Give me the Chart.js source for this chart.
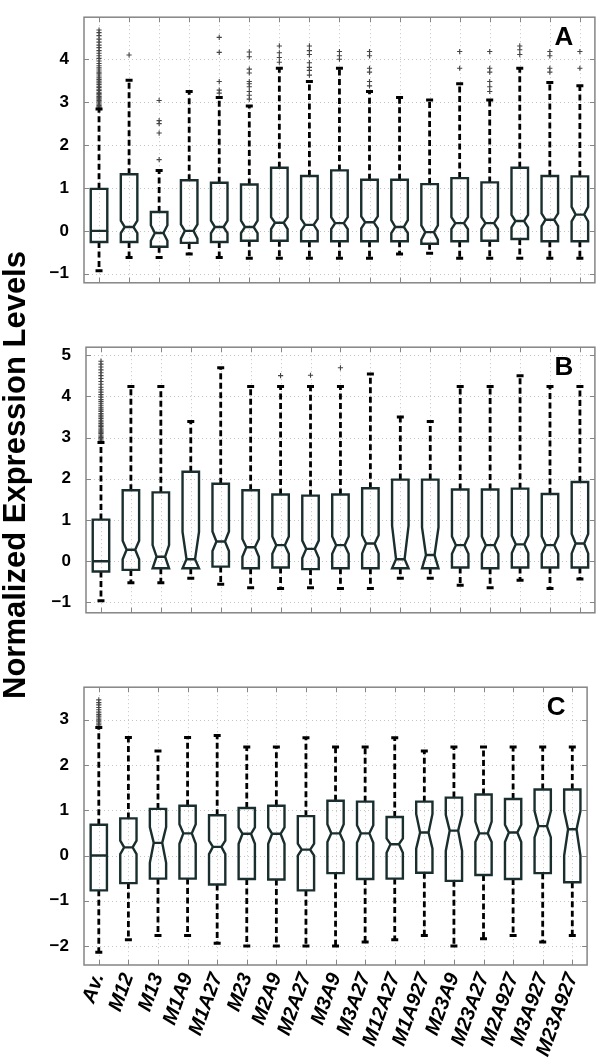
<!DOCTYPE html>
<html>
<head>
<meta charset="utf-8">
<script src="https://cdn.jsdelivr.net/npm/chart.js@4/dist/chart.umd.min.js"></script>
<style>
  html, body { margin: 0; padding: 0; background: #fff; }
  body { position: relative; width: 600px; height: 1064px; overflow: hidden; }
  canvas { position: absolute; left: 0; }
  #yTitle {
    position: absolute; left: -283px; top: 455px; width: 600px; height: 40px;
    line-height: 40px; text-align: center; transform: rotate(-90deg);
    font: bold 31px "Liberation Sans", Arial, sans-serif; color: #000;
  }
</style>
</head>
<body>
<canvas id="panelA" width="600" height="300" style="top:0px"></canvas>
<canvas id="panelB" width="600" height="300" style="top:330px"></canvas>
<canvas id="panelC" width="600" height="394" style="top:670px"></canvas>
<div id="yTitle">Normalized Expression Levels</div>
<script>
const categories = ['Av.', 'M12', 'M13', 'M1A9', 'M1A27', 'M23', 'M2A9', 'M2A27', 'M3A9',
  'M3A27', 'M12A27', 'M1A927', 'M23A9', 'M23A27', 'M2A927', 'M3A927', 'M23A927'];

const yTicksA = [-1, 0, 1, 2, 3, 4];
const yTicksB = [-1, 0, 1, 2, 3, 4, 5];
const yTicksC = [-2, -1, 0, 1, 2, 3];

// panel A
const lowA = [-0.93, -0.62, -0.62, -0.54, -0.62, -0.64, -0.64, -0.64, -0.64, -0.64, -0.54, -0.52, -0.64, -0.64, -0.64, -0.64, -0.64];
const q1A = [-0.26, -0.26, -0.37, -0.28, -0.26, -0.23, -0.23, -0.24, -0.24, -0.24, -0.24, -0.30, -0.24, -0.23, -0.19, -0.24, -0.24];
const medA = [0.0, 0.09, -0.05, 0.0, 0.09, 0.09, 0.19, 0.14, 0.18, 0.2, 0.09, -0.03, 0.18, 0.18, 0.23, 0.26, 0.38];
const q3A = [0.98, 1.32, 0.44, 1.18, 1.12, 1.08, 1.47, 1.28, 1.41, 1.19, 1.19, 1.09, 1.23, 1.13, 1.47, 1.28, 1.27];
const highA = [2.84, 3.51, 1.41, 3.25, 3.11, 2.91, 3.79, 3.48, 3.79, 3.25, 3.11, 3.05, 3.43, 3.05, 3.79, 3.46, 3.38];
const notchLoA = [null, -0.05, -0.23, -0.18, -0.05, -0.05, 0.04, 0.0, 0.04, 0.06, -0.05, -0.21, 0.04, 0.04, 0.08, 0.11, 0.22];
const notchHiA = [null, 0.24, 0.13, 0.15, 0.24, 0.24, 0.32, 0.28, 0.32, 0.34, 0.25, 0.13, 0.32, 0.32, 0.37, 0.41, 0.56];
const outliersA = [
  [2.86, 2.89, 2.92, 2.95, 2.98, 3.01, 3.04, 3.07, 3.1, 3.13, 3.17, 3.2, 3.23, 3.27, 3.3, 3.34, 3.37, 3.41,
   3.45, 3.49, 3.53, 3.57, 3.61, 3.66, 3.7, 3.75, 3.8, 3.85, 3.9, 3.96, 4.02, 4.08, 4.14, 4.2, 4.27, 4.33,
   4.4, 4.47, 4.55, 4.62, 4.68],
  [4.1],
  [1.66, 2.28, 2.5, 2.57, 3.04],
  [],
  [3.21, 3.28, 3.48, 4.16, 4.51],
  [3.07, 3.16, 3.25, 3.36, 3.43, 3.48, 3.68, 3.77, 4.06, 4.17],
  [3.93, 4.04, 4.15, 4.31],
  [3.63, 3.74, 3.81, 3.92, 4.11, 4.2, 4.31],
  [4.0, 4.08, 4.18],
  [3.38, 3.48, 3.7, 3.79, 4.08, 4.18],
  [],
  [],
  [3.79, 4.18],
  [3.25, 3.36, 3.48, 3.7, 3.79, 4.18],
  [4.11, 4.22, 4.31],
  [3.7, 3.79, 4.08, 4.18],
  [3.79, 4.18]
];

// panel B
const lowB = [-0.96, -0.52, -0.52, -0.41, -0.56, -0.64, -0.66, -0.64, -0.66, -0.66, -0.41, -0.41, -0.58, -0.64, -0.46, -0.66, -0.43];
const q1B = [-0.25, -0.21, -0.17, -0.17, -0.13, -0.17, -0.15, -0.19, -0.17, -0.17, -0.17, -0.17, -0.15, -0.17, -0.15, -0.15, -0.15];
const medB = [0.0, 0.28, 0.11, 0.05, 0.48, 0.34, 0.39, 0.30, 0.39, 0.43, 0.05, 0.15, 0.39, 0.39, 0.41, 0.39, 0.43];
const q3B = [1.01, 1.72, 1.67, 2.17, 1.88, 1.72, 1.62, 1.59, 1.62, 1.77, 1.98, 1.98, 1.74, 1.74, 1.76, 1.63, 1.92];
const highB = [2.88, 4.24, 4.24, 3.39, 4.69, 4.24, 4.24, 4.24, 4.24, 4.54, 3.5, 3.39, 4.24, 4.24, 4.5, 4.24, 4.24];
const notchLoB = [null, 0.05, -0.17, -0.17, 0.25, 0.11, 0.18, 0.08, 0.18, 0.19, -0.17, -0.17, 0.18, 0.18, 0.2, 0.18, 0.19];
const notchHiB = [null, 0.5, 0.39, 0.71, 0.72, 0.54, 0.6, 0.5, 0.6, 0.63, 0.86, 0.82, 0.6, 0.6, 0.62, 0.6, 0.66];
const outliersB = [
  [2.91, 2.94, 2.97, 3.0, 3.03, 3.06, 3.1, 3.13, 3.16, 3.2, 3.23, 3.27, 3.3, 3.34, 3.38, 3.42, 3.46, 3.5,
   3.54, 3.58, 3.63, 3.67, 3.72, 3.77, 3.82, 3.87, 3.92, 3.98, 4.04, 4.1, 4.16, 4.22, 4.29, 4.36, 4.43,
   4.5, 4.57, 4.64, 4.71, 4.78, 4.85],
  [], [], [], [], [],
  [4.5],
  [4.51],
  [4.69],
  [], [], [], [], [], [], [], []
];

// panel C
const lowC = [-2.14, -1.86, -1.77, -1.77, -1.94, -2.0, -2.0, -2.0, -2.0, -1.91, -1.86, -1.77, -2.0, -1.84, -1.77, -1.91, -1.77];
const q1C = [-0.77, -0.61, -0.51, -0.51, -0.64, -0.52, -0.53, -0.77, -0.39, -0.52, -0.51, -0.38, -0.56, -0.43, -0.52, -0.39, -0.59];
const medC = [0.0, 0.18, 0.28, 0.49, 0.19, 0.48, 0.48, 0.13, 0.49, 0.49, 0.25, 0.51, 0.55, 0.49, 0.51, 0.65, 0.58];
const q3C = [0.68, 0.82, 1.03, 1.10, 0.89, 1.05, 1.10, 0.87, 1.21, 1.19, 0.85, 1.19, 1.28, 1.35, 1.25, 1.46, 1.46];
const highC = [2.83, 2.61, 2.31, 2.61, 2.65, 2.4, 2.4, 2.6, 2.4, 2.4, 2.6, 2.31, 2.4, 2.4, 2.4, 2.4, 2.4];
const notchLoC = [null, 0.03, -0.16, 0.26, 0.03, 0.26, 0.26, 0.0, 0.3, 0.28, 0.06, 0.15, 0.1, 0.3, 0.3, 0.4, 0.0];
const notchHiC = [null, 0.33, 0.63, 0.69, 0.33, 0.62, 0.62, 0.26, 0.69, 0.67, 0.38, 0.92, 0.9, 0.75, 0.68, 0.98, 0.98];
const outliersC = [
  [2.86, 2.9, 2.93, 2.97, 3.0, 3.04, 3.08, 3.12, 3.17, 3.22, 3.27, 3.33, 3.38, 3.44],
  [], [], [], [], [], [], [], [], [], [], [], [], [], [], [], []
];

Chart.defaults.font.family = '"Liberation Sans", Arial, sans-serif';

function minusLabel(v) {
  return v < 0 ? '\u2212' + Math.abs(v) : String(v);
}

function boxPlugin(s, letter, yTicks) {
  return {
    id: 'notchedBoxes',
    beforeDatasetsDraw(chart) {
      const { ctx, chartArea: a, scales: { x, y } } = chart;
      ctx.save();
      ctx.strokeStyle = '#c4c4c4';
      ctx.lineWidth = 1;
      ctx.setLineDash([1, 3]);
      ctx.beginPath();
      categories.forEach((c, i) => {
        const px = Math.round(x.getPixelForValue(i)) + 0.5;
        ctx.moveTo(px, a.top);
        ctx.lineTo(px, a.bottom);
      });
      yTicks.forEach(v => {
        const py = Math.round(y.getPixelForValue(v)) + 0.5;
        ctx.moveTo(a.left, py);
        ctx.lineTo(a.right, py);
      });
      ctx.stroke();
      ctx.restore();
    },
    afterDatasetsDraw(chart) {
      const { ctx, chartArea: a, scales: { x, y } } = chart;
      const step = x.getPixelForValue(1) - x.getPixelForValue(0);
      const hw = step * 0.275;
      const inset = hw * 0.48;
      ctx.save();

      categories.forEach((c, i) => {
        const cx = x.getPixelForValue(i);
        const yLow = y.getPixelForValue(s.low[i]);
        const yQ1 = y.getPixelForValue(s.q1[i]);
        const yMed = y.getPixelForValue(s.med[i]);
        const yQ3 = y.getPixelForValue(s.q3[i]);
        const yHigh = y.getPixelForValue(s.high[i]);

        // whiskers
        ctx.strokeStyle = '#000';
        ctx.lineWidth = 2.8;
        ctx.setLineDash([6, 3.5]);
        ctx.beginPath();
        ctx.moveTo(cx, yQ3);
        ctx.lineTo(cx, yHigh);
        ctx.moveTo(cx, yQ1);
        ctx.lineTo(cx, yLow);
        ctx.stroke();

        // caps
        ctx.setLineDash([]);
        ctx.lineWidth = 3;
        ctx.beginPath();
        ctx.moveTo(cx - 3.5, yHigh);
        ctx.lineTo(cx + 3.5, yHigh);
        ctx.moveTo(cx - 3.5, yLow);
        ctx.lineTo(cx + 3.5, yLow);
        ctx.stroke();

        // box
        ctx.strokeStyle = '#1a2e2e';
        ctx.lineWidth = 2.4;
        ctx.lineJoin = 'miter';
        const L = cx - hw, R = cx + hw;
        ctx.beginPath();
        if (s.nhi[i] == null) {
          ctx.rect(L, yQ3, R - L, yQ1 - yQ3);
          ctx.moveTo(L, yMed);
          ctx.lineTo(R, yMed);
        } else {
          const yNhi = y.getPixelForValue(s.nhi[i]);
          const yNlo = y.getPixelForValue(s.nlo[i]);
          ctx.moveTo(L, yQ3);
          ctx.lineTo(R, yQ3);
          ctx.lineTo(R, yNhi);
          ctx.lineTo(R - inset, yMed);
          ctx.lineTo(R, yNlo);
          ctx.lineTo(R, yQ1);
          ctx.lineTo(L, yQ1);
          ctx.lineTo(L, yNlo);
          ctx.lineTo(L + inset, yMed);
          ctx.lineTo(L, yNhi);
          ctx.closePath();
          ctx.moveTo(L + inset, yMed);
          ctx.lineTo(R - inset, yMed);
        }
        ctx.stroke();
      });

      // frame and inward ticks
      ctx.strokeStyle = '#858585';
      ctx.lineWidth = 1.5;
      ctx.strokeRect(a.left, a.top, a.right - a.left, a.bottom - a.top);
      ctx.lineWidth = 1;
      ctx.beginPath();
      categories.forEach((c, i) => {
        const px = Math.round(x.getPixelForValue(i)) + 0.5;
        ctx.moveTo(px, a.top);
        ctx.lineTo(px, a.top + 5);
        ctx.moveTo(px, a.bottom);
        ctx.lineTo(px, a.bottom - 5);
      });
      yTicks.forEach(v => {
        const py = Math.round(y.getPixelForValue(v)) + 0.5;
        ctx.moveTo(a.left, py);
        ctx.lineTo(a.left + 5, py);
        ctx.moveTo(a.right, py);
        ctx.lineTo(a.right - 5, py);
      });
      ctx.stroke();

      // panel letter
      ctx.fillStyle = '#000';
      ctx.font = 'bold 26px "Liberation Sans", Arial, sans-serif';
      ctx.textAlign = 'center';
      ctx.textBaseline = 'middle';
      ctx.fillText(letter, a.right - 31, a.top + 21);
      ctx.restore();
    }
  };
}

function createPanel(id, cfg) {
  const points = [];
  cfg.outliers.forEach((vals, i) => {
    vals.forEach(v => points.push({ x: categories[i], y: v }));
  });

  const ctx = document.getElementById(id).getContext('2d');
  return new Chart(ctx, {
    type: 'scatter',
    data: {
      labels: categories,
      datasets: [{
        data: points,
        pointStyle: 'cross',
        pointRadius: 2.6,
        borderWidth: 1.1,
        borderColor: '#444',
        backgroundColor: '#444'
      }]
    },
    options: {
      responsive: false,
      animation: false,
      events: [],
      layout: { padding: { top: cfg.padTop, right: 2, bottom: cfg.padBottom, left: 0 } },
      plugins: {
        legend: { display: false },
        tooltip: { enabled: false }
      },
      scales: {
        x: {
          type: 'category',
          offset: true,
          display: cfg.showLabels,
          grid: { display: false, drawTicks: false },
          border: { display: false },
          ticks: {
            autoSkip: false,
            minRotation: 70,
            maxRotation: 70,
            padding: 5,
            color: '#000',
            font: { size: 20, weight: 'bold', style: 'italic' }
          },
          afterFit: scale => { if (cfg.showLabels) scale.height = 99; }
        },
        y: {
          type: 'linear',
          min: cfg.min,
          max: cfg.max,
          grid: { display: false },
          border: { display: false },
          afterBuildTicks: scale => { scale.ticks = cfg.yTicks.map(v => ({ value: v })); },
          ticks: {
            padding: 7,
            color: '#000',
            font: { size: 17, weight: 'bold' },
            callback: v => minusLabel(v)
          },
          afterFit: scale => { scale.width = cfg.axisWidth; }
        }
      }
    },
    plugins: [boxPlugin(cfg.stats, cfg.letter, cfg.yTicks)]
  });
}

createPanel('panelA', {
  stats: { low: lowA, q1: q1A, med: medA, q3: q3A, high: highA, nlo: notchLoA, nhi: notchHiA },
  outliers: outliersA, yTicks: yTicksA, letter: 'A',
  min: -1.21, max: 4.98, padTop: 1, padBottom: 12, axisWidth: 84, showLabels: false
});

createPanel('panelB', {
  stats: { low: lowB, q1: q1B, med: medB, q3: q3B, high: highB, nlo: notchLoB, nhi: notchHiB },
  outliers: outliersB, yTicks: yTicksB, letter: 'B',
  min: -1.25, max: 5.19, padTop: 7, padBottom: 6, axisWidth: 86, showLabels: false
});

createPanel('panelC', {
  stats: { low: lowC, q1: q1C, med: medC, q3: q3C, high: highC, nlo: notchLoC, nhi: notchHiC },
  outliers: outliersC, yTicks: yTicksC, letter: 'C',
  min: -2.42, max: 3.72, padTop: 8, padBottom: 0, axisWidth: 84, showLabels: true
});
</script>
</body>
</html>
